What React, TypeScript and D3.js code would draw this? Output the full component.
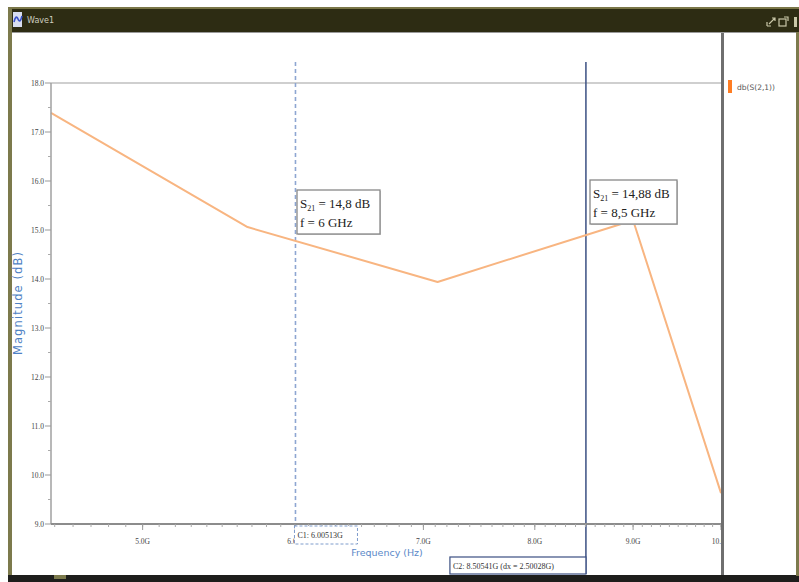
import React from "react";
import * as d3 from "d3";

const freqGHz = [4.48, 5.67, 7.12, 9.0, 10.0];
const magDb = [17.39, 15.06, 13.94, 15.2, 9.63];
const xMajorTicks = [5, 6, 7, 8, 9, 10];
const xTickLabels = ["5.0G", "6.0G", "7.0G", "8.0G", "9.0G", "10.0G"];
const yMajorTicks = [9, 10, 11, 12, 13, 14, 15, 16, 17, 18];
const yTickLabels = ["9.0", "10.0", "11.0", "12.0", "13.0", "14.0", "15.0", "16.0", "17.0", "18.0"];
const cursorFreqs = [6.00513, 8.50541];
const cursorLabels = ["C1: 6.00513G", "C2: 8.50541G (dx = 2.50028G)"];
const markerLines = [
  ["14,8 dB", "f = 6 GHz"],
  ["14,88 dB", "f = 8,5 GHz"],
];
const legendName = "db(S(2,1))";

const W = 799;
const H = 582;
const L = 51;
const R = 721;
const T = 83;
const B = 524;

export default function App() {
  const x = d3.scaleLog().domain([4.48, 10.0]).range([L, R]);
  const y = d3.scaleLinear().domain([9, 18]).range([B, T]);
  const minorX: number[] = d3.range(45, 101).map((v) => v / 10);
  const minorY: number[] = d3.range(9, 18, 0.5).filter((v) => v % 1 !== 0);
  const line = d3
    .line<number>()
    .x((_, i) => x(freqGHz[i]))
    .y((d) => y(d));
  const pathD = line(magDb) || "";
  const c1 = x(cursorFreqs[0]);
  const c2 = x(cursorFreqs[1]);
  const serif = "'Liberation Serif', 'Times New Roman', serif";
  const sans = "'DejaVu Sans', 'Liberation Sans', sans-serif";

  return (
    <svg
      width={W}
      height={H}
      style={{ position: "absolute", left: 0, top: 0, background: "#fff" }}
    >
      <defs>
        <clipPath id="plotclip">
          <rect x={0} y={0} width={722} height={H} />
        </clipPath>
      </defs>
      {/* window frame */}
      <rect x={8} y={8} width={791} height={24} fill="#2d2c13" />
      <rect x={8} y={7} width={791} height={2} fill="#7a7648" />
      <rect x={8} y={32} width={791} height={1} fill="#9a9a9a" />
      <rect x={8} y={8} width={4} height={568} fill="#7c7a4c" />
      <rect x={8} y={575} width={791} height={7} fill="#1e1e1c" />
      <rect x={54} y={575} width={12} height={4} fill="#7c7a4c" />
      <rect x={796} y={32} width={3} height={544} fill="#7c7a4c" />
      {/* title icon */}
      <rect x={13} y={12} width={9} height={15} fill="#d8def0" />
      <path d="M14,22 Q16,14 18,19 T22,16" stroke="#3a52c8" strokeWidth={1.6} fill="none" />
      <text x={27} y={23} fontSize={8} fontFamily={sans} fill="#cfcfc0">
        Wave1
      </text>
      {/* top right icons */}
      <path d="M767,26 L767,22 M767,26 L771,26 M769,24 L775,18 M772,18 L775,18 L775,21" stroke="#c9c7a8" strokeWidth={1.2} fill="none" />
      <rect x={779} y={19} width={7} height={7} stroke="#c9c7a8" strokeWidth={1.2} fill="none" />
      <path d="M784,17 L788,17 L788,21" stroke="#c9c7a8" strokeWidth={1.2} fill="none" />
      <rect x={794} y={17} width={3} height={10} fill="#c9c7a8" />

      {/* plot area */}
      <g clipPath="url(#plotclip)">
        <line x1={L} x2={722} y1={T} y2={T} stroke="#a0a0a0" strokeWidth={1.2} />
        {/* cursors */}
        <line x1={c1} x2={c1} y1={62} y2={527} stroke="#8ea6d2" strokeWidth={1.6} strokeDasharray="4,3" />
        <line x1={c2} x2={c2} y1={62} y2={574} stroke="#3b4f82" strokeWidth={1.5} />
        {/* data line */}
        <path d={pathD} fill="none" stroke="#f8b581" strokeWidth={2} strokeLinejoin="round" />
        {/* axes */}
        <line x1={L} x2={L} y1={T} y2={B} stroke="#a0a0a0" strokeWidth={1.5} />
        <line x1={L} x2={722} y1={B} y2={B} stroke="#8c8c8c" strokeWidth={2} />
        {yMajorTicks.map((v, i) => (
          <g key={"ym" + v}>
            <line x1={L - 6} x2={L} y1={y(v)} y2={y(v)} stroke="#999" strokeWidth={1} />
            <text x={L - 7} y={y(v) + 2.5} fontSize={7.5} fontFamily={serif} fill="#444" textAnchor="end">
              {yTickLabels[i]}
            </text>
          </g>
        ))}
        {minorY.map((v) => (
          <line key={"yn" + v} x1={L - 3} x2={L} y1={y(v)} y2={y(v)} stroke="#aaa" strokeWidth={1} />
        ))}
        {minorX.map((v) => (
          <line key={"xn" + v} x1={x(v)} x2={x(v)} y1={B} y2={B + 3} stroke="#aaa" strokeWidth={1} />
        ))}
        {xMajorTicks.map((v, i) => (
          <g key={"xm" + v}>
            <line x1={x(v)} x2={x(v)} y1={B} y2={B + 6} stroke="#999" strokeWidth={1} />
            <text x={x(v)} y={B + 20} fontSize={7.5} fontFamily={serif} fill="#444" textAnchor="middle">
              {xTickLabels[i]}
            </text>
          </g>
        ))}
        {/* cursor labels */}
        <rect x={c1 - 1} y={526} width={63} height={18} fill="#fff" stroke="#7f9ccc" strokeWidth={1} strokeDasharray="3,2" />
        <text x={c1 + 2} y={538} fontSize={8} fontFamily={serif} fill="#333">
          {cursorLabels[0]}
        </text>
        <rect x={c2 - 136} y={557} width={136} height={17} fill="#fff" stroke="#3b4f82" strokeWidth={1.2} />
        <text x={c2 - 133} y={569} fontSize={8} fontFamily={serif} fill="#333">
          {cursorLabels[1]}
        </text>
        {/* marker annotation boxes */}
        {[
          { bx: 297, by: 190, bw: 83, bh: 44 },
          { bx: 590, by: 180, bw: 87, bh: 44 },
        ].map((b, i) => (
          <g key={"mk" + i}>
            <rect x={b.bx + 1} y={b.by + 1} width={b.bw} height={b.bh} fill="#ccc" />
            <rect x={b.bx} y={b.by} width={b.bw} height={b.bh} fill="#fff" stroke="#888" strokeWidth={1.3} />
            <text x={b.bx + 3} y={b.by + 18} fontSize={13} fontFamily={serif} fill="#222">
              S<tspan fontSize={8} dy={3}>21</tspan>
              <tspan dy={-3}>{" = " + markerLines[i][0]}</tspan>
            </text>
            <text x={b.bx + 3} y={b.by + 37} fontSize={13} fontFamily={serif} fill="#222">
              {markerLines[i][1]}
            </text>
          </g>
        ))}
        {/* axis titles */}
        <text x={387} y={556} fontSize={9.5} fontFamily={sans} fill="#5a88c8" textAnchor="middle">
          Frequency (Hz)
        </text>
      </g>
      <text
        transform={`translate(22,303) rotate(-90)`}
        fontSize={11.5}
        letterSpacing={1.1}
        fontFamily={sans}
        fill="#4f82c4"
        textAnchor="middle"
      >
        Magnitude (dB)
      </text>

      {/* legend panel */}
      <rect x={721} y={33} width={3} height={542} fill="#6f6f6f" />
      <rect x={728} y={80} width={4} height={13} fill="#ff7d22" />
      <text x={737} y={90} fontSize={7.5} fontFamily={sans} fill="#555">
        {legendName}
      </text>
    </svg>
  );
}
